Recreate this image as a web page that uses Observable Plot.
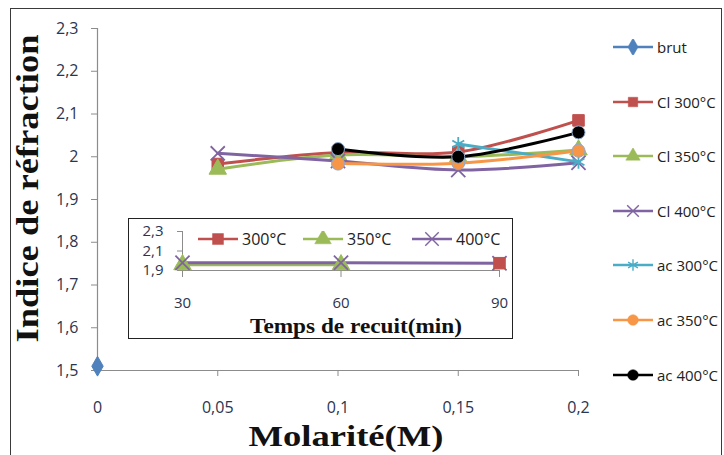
<!DOCTYPE html>
<html><head><meta charset="utf-8">
<script src="https://cdn.jsdelivr.net/npm/d3@7"></script>
<script src="https://cdn.jsdelivr.net/npm/@observablehq/plot@0.6"></script>
<style>
body{margin:0;background:#fff;}
#wrap{position:relative;width:724px;height:455px;overflow:hidden;background:#fff;}
#outer{position:absolute;left:10px;top:8px;width:712px;height:470px;border:1px solid #3a3a3a;box-sizing:border-box;pointer-events:none;}
#main{position:absolute;left:0;top:0;}
#inset{position:absolute;left:128px;top:218px;width:385px;height:121px;background:#fff;}
#insetBorder{position:absolute;left:128px;top:218px;width:385px;height:121px;border:1.5px solid #222;box-sizing:border-box;pointer-events:none;}
.leg{position:absolute;display:flex;align-items:center;font-family:"Open Sans",sans-serif;font-size:15px;color:#222;white-space:nowrap;}
.leg svg{flex:none;}
</style></head><body><div id="wrap"><div id="main"></div><div id="inset"></div><div id="insetBorder"></div><div id="outer"></div></div>
<script>
// ---- main chart data ----
const molarity = [0, 0.05, 0.1, 0.15, 0.2];
const seriesNames = ["brut", "Cl 300°C", "Cl 350°C", "Cl 400°C", "ac 300°C", "ac 350°C", "ac 400°C"];
const brut  = [1.51, null, null, null, null];
const cl300 = [null, 1.983, 2.010, 2.011, 2.085];
const cl350 = [null, 1.971, 2.004, 2.000, 2.016];
const cl400 = [null, 2.008, 1.990, 1.969, 1.986];
const ac300 = [null, null, null, 2.030, 1.988];
const ac350 = [null, null, 1.984, 1.985, 2.014];
const ac400 = [null, null, 2.018, 2.000, 2.057];
const seriesColors = ["#4F81BD", "#C0504D", "#9BBB59", "#8064A2", "#4BACC6", "#F79646", "#000000"];
const seriesSymbols = ["diamond", "square", "triangle", "times", "asterisk", "circle", "circle"];
const xTicks = [0, 0.05, 0.1, 0.15, 0.2];
const yTicks = [1.5, 1.6, 1.7, 1.8, 1.9, 2, 2.1, 2.2, 2.3];
const xTitle = "Molarité(M)";
const yTitle = "Indice de réfraction";

// ---- inset data ----
const recuitTime = [30, 60, 90];
const insetNames = ["300°C", "350°C", "400°C"];
const in300 = [null, null, 1.975];
const in350 = [1.96, 1.96, null];
const in400 = [1.98, 1.98, 1.975];
const insetColors = ["#C0504D", "#9BBB59", "#8064A2"];
const insetSymbols = ["square", "triangle", "times"];
const insetXTicks = [30, 60, 90];
const insetYTicks = [1.9, 2.1, 2.3];
const insetTitle = "Temps de recuit(min)";

const fmt = d => String(d).replace(".", ",");
const tickColor = "#2b3550";
const axisGray = "#8c8c8c";
const filledSym = s => !(s === "times" || s === "asterisk");

const mainValues = [brut, cl300, cl350, cl400, ac300, ac350, ac400];
const mainData = seriesNames.map((name, i) =>
  molarity.map((m, j) => ({series: name, x: m, y: mainValues[i][j]})).filter(d => d.y != null));

function seriesMarks(data, color, sym, r) {
  const filled = filledSym(sym);
  return [
    Plot.line(data, {x: "x", y: "y", stroke: color, strokeWidth: 3, curve: "catmull-rom"}),
    Plot.dot(data, {x: "x", y: "y", symbol: sym, r,
      fill: filled ? color : "none",
      stroke: sym === "circle" ? "#8fa9cf" : color,
      strokeWidth: filled ? 1 : 1.8})
  ];
}

const mainPlot = Plot.plot({
  width: 724, height: 455,
  marginLeft: 97, marginRight: 146, marginTop: 28, marginBottom: 85,
  style: {fontFamily: "'Open Sans', sans-serif", fontSize: "16px", background: "transparent", overflow: "visible"},
  x: {domain: [0, 0.2]},
  y: {domain: [1.5, 2.3]},
  marks: [
    Plot.ruleX([0], {stroke: axisGray, strokeWidth: 1.2}),
    Plot.ruleY([1.5], {stroke: axisGray, strokeWidth: 1.2}),
    Plot.axisX({ticks: xTicks, tickFormat: fmt, tickSize: 6, tickPadding: 25, stroke: axisGray, fill: tickColor, fontSize: 16, label: null}),
    Plot.axisY({ticks: yTicks, tickFormat: fmt, tickSize: 6, tickPadding: 13, stroke: axisGray, fill: tickColor, fontSize: 16, label: null}),
    ...mainData.flatMap((d, i) => seriesMarks(d, seriesColors[i], seriesSymbols[i], seriesSymbols[i] === "diamond" ? 6 : 6.5)),
    Plot.text([xTitle], {frameAnchor: "bottom", lineAnchor: "middle", textAnchor: "middle", dy: 66, dx: 8, fontFamily: "'Liberation Serif', serif", fontWeight: "bold", fontSize: 30, fill: "#111"}),
    Plot.text([yTitle], {frameAnchor: "left", lineAnchor: "middle", textAnchor: "middle", rotate: -90, dx: -69, dy: -11, fontFamily: "'Liberation Serif', serif", fontWeight: "bold", fontSize: 31, fill: "#111"})
  ]
});
document.getElementById("main").appendChild(mainPlot);

// ---- inset ----
const insetValues = [in300, in350, in400];
const insetData = insetNames.map((name, i) =>
  recuitTime.map((t, j) => ({series: name, x: t, y: insetValues[i][j]})).filter(d => d.y != null));
const insetDotOrder = [1, 2, 0];

const insetPlot = Plot.plot({
  width: 385, height: 121,
  marginLeft: 54, marginRight: 14, marginTop: 13, marginBottom: 69,
  style: {fontFamily: "'Open Sans', sans-serif", fontSize: "15px", background: "transparent", overflow: "visible"},
  x: {domain: [30, 90]},
  y: {domain: [1.9, 2.3]},
  marks: [
    Plot.ruleX([30], {stroke: axisGray}),
    Plot.ruleY([1.9], {stroke: axisGray}),
    Plot.axisX({ticks: insetXTicks, tickSize: 7, tickPadding: 20, stroke: axisGray, fill: tickColor, fontSize: 15, label: null}),
    Plot.axisY({ticks: insetYTicks, tickFormat: fmt, tickSize: 5, tickPadding: 14, stroke: axisGray, fill: tickColor, fontSize: 15, label: null}),
    ...insetData.map((d, i) => Plot.line(d, {x: "x", y: "y", stroke: insetColors[i], strokeWidth: 3})),
    ...insetDotOrder.map(i => Plot.dot(insetData[i], {x: "x", y: "y", symbol: insetSymbols[i], r: 6.5,
      fill: filledSym(insetSymbols[i]) ? insetColors[i] : "none", stroke: insetColors[i],
      strokeWidth: filledSym(insetSymbols[i]) ? 1 : 1.8})),
    Plot.text([insetTitle], {frameAnchor: "bottom", lineAnchor: "middle", textAnchor: "middle", dy: 56, dx: 15, fontFamily: "'Liberation Serif', serif", fontWeight: "bold", fontSize: 20, fill: "#111"})
  ]
});
document.getElementById("inset").appendChild(insetPlot);

// stretch serif titles to the reference width
function stretch(svg, txt, len) {
  d3.select(svg).selectAll("text").filter(function() { return this.textContent === txt; })
    .attr("textLength", len).attr("lengthAdjust", "spacingAndGlyphs");
}
stretch(mainPlot, xTitle, 195);
stretch(mainPlot, yTitle, 308);
stretch(insetPlot, insetTitle, 212);

// ---- legends ----
const d3sym = {diamond: d3.symbolDiamond, square: d3.symbolSquare, triangle: d3.symbolTriangle,
  times: d3.symbolTimes, asterisk: d3.symbolAsterisk, circle: d3.symbolCircle};
function legendItem(color, sym, label, size) {
  const item = document.createElement("div");
  item.className = "leg";
  const svg = d3.create("svg").attr("width", 40).attr("height", 16);
  svg.append("line").attr("x1", 0).attr("x2", 40).attr("y1", 8).attr("y2", 8).attr("stroke", color).attr("stroke-width", 2.5);
  const filled = filledSym(sym);
  svg.append("path").attr("transform", "translate(20,8)")
    .attr("d", d3.symbol().type(d3sym[sym]).size(size)())
    .attr("fill", filled ? color : "none").attr("stroke", color).attr("stroke-width", filled ? 0.5 : 1.4);
  item.appendChild(svg.node());
  const span = document.createElement("span");
  span.textContent = label;
  span.style.marginLeft = "4px";
  item.appendChild(span);
  return item;
}
const wrap = document.getElementById("wrap");
seriesNames.forEach((name, i) => {
  const it = legendItem(seriesColors[i], seriesSymbols[i], name, 90);
  it.style.left = "613px";
  it.style.top = (37 + i * 54.6) + "px";
  wrap.appendChild(it);
});
const insetLegLeft = [198, 303, 412];
insetNames.forEach((name, i) => {
  const it = legendItem(insetColors[i], insetSymbols[i], name, 120);
  it.style.left = insetLegLeft[i] + "px";
  it.style.top = "228px";
  it.style.fontSize = "16px";
  wrap.insertBefore(it, document.getElementById("insetBorder"));
});
</script></body></html>
